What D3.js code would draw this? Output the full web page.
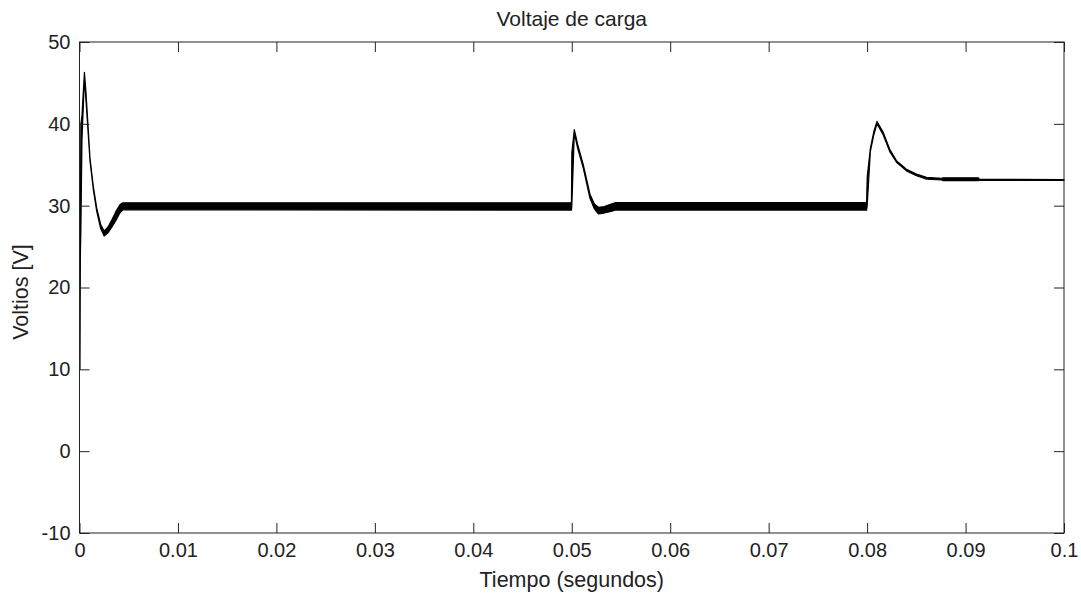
<!DOCTYPE html>
<html>
<head>
<meta charset="utf-8">
<script src="https://cdn.jsdelivr.net/npm/d3@7"></script>
<style>
  body { margin: 0; background: #fff; }
  text { font-family: "Liberation Sans", Arial, sans-serif; fill: #222; }
</style>
</head>
<body>
<div id="chart"></div>
<script>
// Time (s) and ripple envelope (low / high)
const tiempo = [
  0.00005, 0.00009, 0.00014, 0.00025, 0.0005, 0.00065, 0.00107, 0.0014, 0.00175,
  0.00215, 0.0025, 0.0029, 0.0033, 0.0037, 0.0041, 0.0044, 0.04997,
  0.05001, 0.05026, 0.0506, 0.05117, 0.05185, 0.0523, 0.0527, 0.0533,
  0.054, 0.0544, 0.07995, 0.08001, 0.08033, 0.08067, 0.081, 0.08162,
  0.0823, 0.08298, 0.084, 0.08502, 0.08604, 0.0876, 0.0877, 0.0913,
  0.0914, 0.1
];
const vBajo = [
  10, 24, 27, 38, 45.5, 43, 35.4, 32, 29.3,
  27.2, 26.3, 26.7, 27.4, 28.2, 29.1, 29.5, 29.46,
  30.0, 38.9, 37.0, 34.6, 30.9, 29.6, 29.0, 29.1,
  29.3, 29.46, 29.46, 30.0, 36.6, 38.6, 40.0, 38.7,
  36.6, 35.3, 34.25, 33.65, 33.25, 33.15, 33.05, 33.05,
  33.1, 33.1
];
const vAlto = [
  10, 28, 40, 41, 46.3, 44, 35.8, 32.4, 29.7,
  27.7, 26.9, 27.4, 28.3, 29.3, 30.1, 30.35, 30.36,
  36.5, 39.3, 37.5, 35.0, 31.4, 30.2, 29.8, 29.9,
  30.2, 30.36, 30.36, 33.5, 37.0, 39.0, 40.3, 39.0,
  36.9, 35.5, 34.45, 33.85, 33.45, 33.35, 33.4, 33.4,
  33.25, 33.2
];

const xTicks = [0, 0.01, 0.02, 0.03, 0.04, 0.05, 0.06, 0.07, 0.08, 0.09, 0.1];
const yTicks = [-10, 0, 10, 20, 30, 40, 50];

const W = 1081, H = 595;
const plot = { left: 79.5, right: 1064, top: 42, bottom: 533 };

const svg = d3.select("#chart").append("svg")
  .attr("width", W).attr("height", H);

const x = d3.scaleLinear().domain([0, 0.1]).range([plot.left, plot.right]);
const y = d3.scaleLinear().domain([-10, 50]).range([plot.bottom, plot.top]);

const datos = tiempo.map((t, i) => ({ t: t, lo: vBajo[i], hi: vAlto[i] }));

// Signal (ripple band)
const area = d3.area()
  .x(d => x(d.t))
  .y0(d => y(d.lo))
  .y1(d => y(d.hi));

svg.append("path")
  .datum(datos)
  .attr("d", area)
  .attr("fill", "#000")
  .attr("stroke", "#000")
  .attr("stroke-width", 1.2)
  .attr("stroke-linejoin", "round");

// Box
svg.append("rect")
  .attr("x", plot.left).attr("y", plot.top)
  .attr("width", plot.right - plot.left)
  .attr("height", plot.bottom - plot.top)
  .attr("fill", "none").attr("stroke", "#222").attr("stroke-width", 1);

// Axes (ticks inward, mirrored)
const fmtX = d => d === 0 ? "0" : String(+d.toFixed(2));
const fmtY = d => String(d); // plain hyphen for negatives
const tickLen = 10;

const xAxis = d3.axisBottom(x).tickValues(xTicks).tickSize(-tickLen)
  .tickPadding(10).tickFormat(fmtX);
const gx = svg.append("g")
  .attr("transform", "translate(0," + plot.bottom + ")")
  .call(xAxis);
gx.select(".domain").remove();

const xTop = d3.axisTop(x).tickValues(xTicks).tickSize(-tickLen).tickFormat("");
const gxt = svg.append("g")
  .attr("transform", "translate(0," + plot.top + ")")
  .call(xTop);
gxt.select(".domain").remove();

const yAxis = d3.axisLeft(y).tickValues(yTicks).tickSize(-tickLen)
  .tickPadding(9).tickFormat(fmtY);
const gy = svg.append("g")
  .attr("transform", "translate(" + plot.left + ",0)")
  .call(yAxis);
gy.select(".domain").remove();

const yRight = d3.axisRight(y).tickValues(yTicks).tickSize(-tickLen).tickFormat("");
const gyr = svg.append("g")
  .attr("transform", "translate(" + plot.right + ",0)")
  .call(yRight);
gyr.select(".domain").remove();

svg.selectAll(".tick line").attr("stroke", "#222");
svg.selectAll(".tick text")
  .style("font-size", "20px")
  .style("font-family", "Liberation Sans, Arial, sans-serif")
  .attr("fill", "#222");

// Labels
svg.append("text")
  .attr("x", (plot.left + plot.right) / 2)
  .attr("y", 26)
  .attr("text-anchor", "middle")
  .style("font-size", "21px")
  .text("Voltaje de carga");

svg.append("text")
  .attr("x", (plot.left + plot.right) / 2)
  .attr("y", 587)
  .attr("text-anchor", "middle")
  .style("font-size", "21.5px")
  .text("Tiempo (segundos)");

svg.append("text")
  .attr("transform", "translate(28,292) rotate(-90)")
  .attr("text-anchor", "middle")
  .style("font-size", "21.5px")
  .text("Voltios [V]");
</script>
</body>
</html>
